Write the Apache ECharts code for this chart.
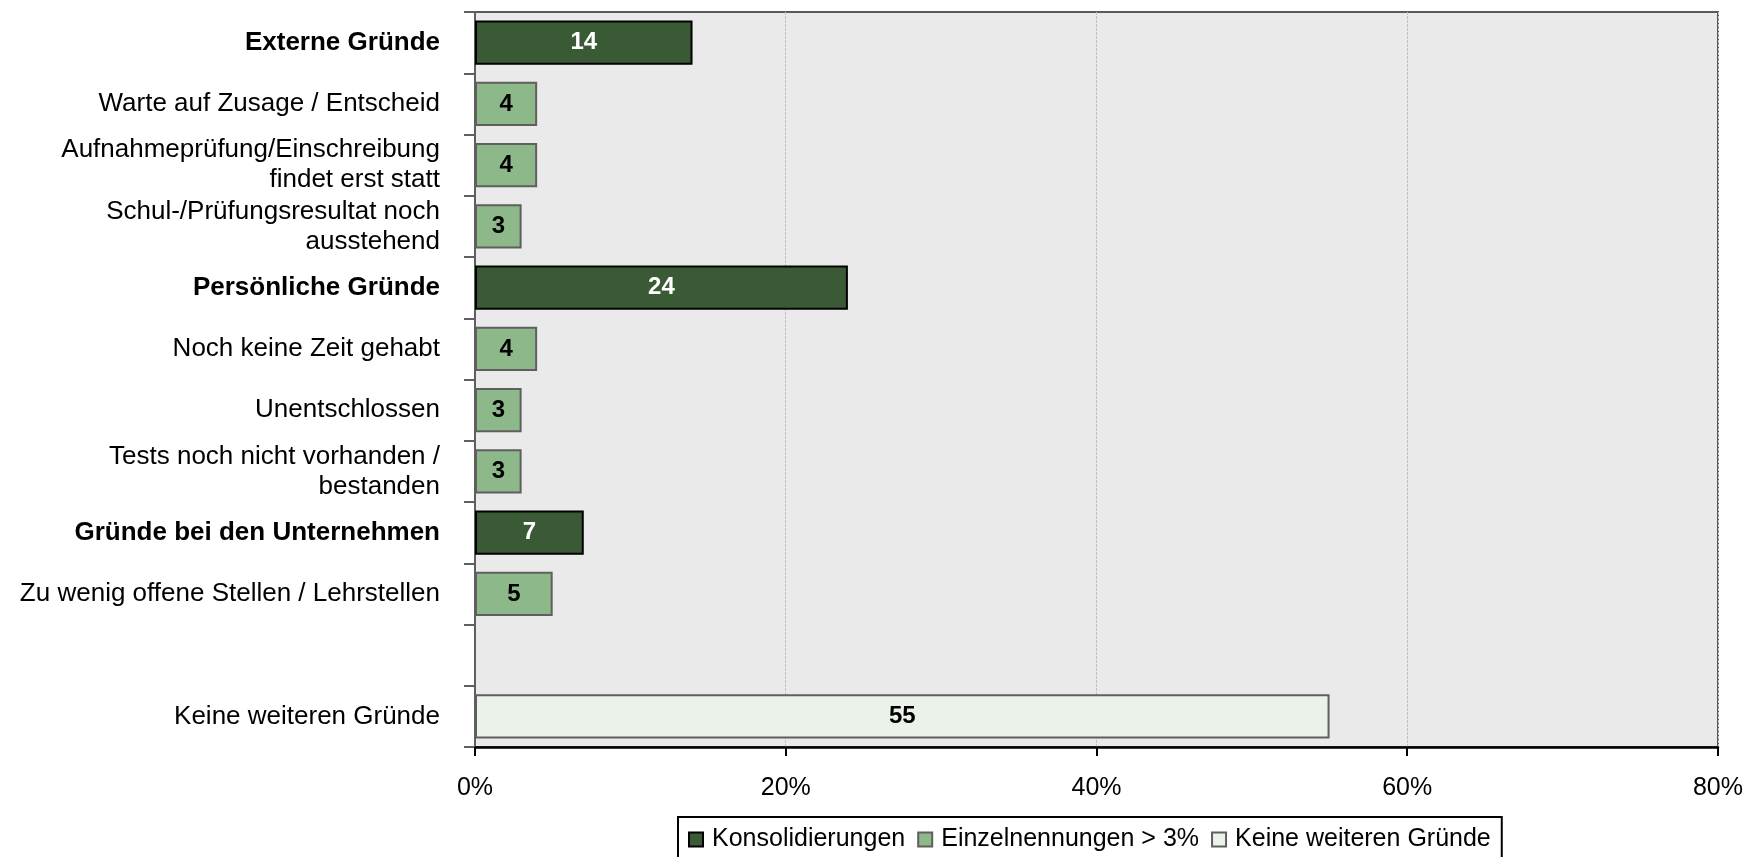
<!DOCTYPE html>
<html>
<head>
<meta charset="utf-8">
<style>
  html, body { margin: 0; padding: 0; background: #ffffff; }
  #chart-container { width: 1746px; height: 857px; }
</style>
<script src="https://cdn.jsdelivr.net/npm/echarts@6/dist/echarts.min.js"></script>
</head>
<body>
<div id="chart-container"></div>
<script>
// Kategorien von oben nach unten (leerer Platz vor "Keine weiteren Gründe")
var kategorien = [
  'Externe Gründe',
  'Warte auf Zusage / Entscheid',
  'Aufnahmeprüfung/Einschreibung\nfindet erst statt',
  'Schul-/Prüfungsresultat noch\nausstehend',
  'Persönliche Gründe',
  'Noch keine Zeit gehabt',
  'Unentschlossen',
  'Tests noch nicht vorhanden /\nbestanden',
  'Gründe bei den Unternehmen',
  'Zu wenig offene Stellen / Lehrstellen',
  '',
  'Keine weiteren Gründe'
];
var gruppenTitel = ['Externe Gründe', 'Persönliche Gründe', 'Gründe bei den Unternehmen'];

var konsolidierungen = [14, null, null, null, 24, null, null, null, 7, null, null, null];
var einzelnennungen = [null, 4, 4, 3, null, 4, 3, 3, null, 5, null, null];
var keineWeiteren = [null, null, null, null, null, null, null, null, null, null, null, 55];

var xTicks = [0, 20, 40, 60, 80];

var schrift = '"Liberation Sans", Arial, sans-serif';

var dom = document.getElementById('chart-container');
var myChart = echarts.init(dom, null, { renderer: 'canvas' });

function balkenLabel(farbe) {
  return {
    show: true,
    position: 'inside',
    color: farbe,
    fontFamily: schrift,
    fontWeight: 'bold',
    fontSize: 24
  };
}

var option = {
  animation: false,
  textStyle: { fontFamily: schrift },
  legend: {
    data: ['Konsolidierungen', 'Einzelnennungen > 3%', 'Keine weiteren Gründe'],
    left: 678,
    top: 817,
    orient: 'horizontal',
    itemWidth: 14,
    itemHeight: 14,
    itemGap: 12,
    icon: 'rect',
    padding: [10, 11, 10, 10],
    borderColor: '#000000',
    borderWidth: 2,
    backgroundColor: '#ffffff',
    borderRadius: 0,
    textStyle: {
      fontFamily: schrift,
      fontSize: 25,
      color: '#000000',
      padding: [0, 0, 0, 4]
    }
  },
  grid: {
    left: 475,
    right: 26,
    top: 12,
    bottom: 110,
    show: true,
    backgroundColor: '#eaeaea',
    borderColor: '#5a5a5a',
    borderWidth: 2
  },
  xAxis: {
    type: 'value',
    min: xTicks[0],
    max: xTicks[xTicks.length - 1],
    interval: xTicks[1] - xTicks[0],
    axisLine: { show: true, lineStyle: { color: '#000000', width: 2.5 } },
    axisTick: { show: true, length: 9, lineStyle: { color: '#000000', width: 2 } },
    axisLabel: {
      margin: 29,
      fontFamily: schrift,
      fontSize: 25,
      color: '#000000',
      formatter: '{value}%'
    },
    splitLine: { show: true, lineStyle: { color: '#c2c2c2', width: 1, type: [3, 1] } }
  },
  yAxis: {
    type: 'category',
    inverse: true,
    data: kategorien,
    axisLine: { show: true, lineStyle: { color: '#5f5f5f', width: 2 } },
    axisTick: { show: true, length: 11, lineStyle: { color: '#5f5f5f', width: 2 } },
    axisLabel: {
      margin: 35,
      fontFamily: schrift,
      fontSize: 26,
      lineHeight: 30,
      color: '#000000',
      formatter: function (value) {
        if (gruppenTitel.indexOf(value) >= 0) {
          return '{b|' + value + '}';
        }
        return value;
      },
      rich: {
        b: { fontWeight: 'bold', fontSize: 26, fontFamily: schrift, color: '#000000' }
      }
    },
    splitLine: { show: false }
  },
  series: [
    {
      name: 'Konsolidierungen',
      type: 'bar',
      stack: 'total',
      barCategoryGap: '28%',
      data: konsolidierungen,
      itemStyle: { color: '#395a35', borderColor: '#000000', borderWidth: 2 },
      label: balkenLabel('#ffffff')
    },
    {
      name: 'Einzelnennungen > 3%',
      type: 'bar',
      stack: 'total',
      barCategoryGap: '28%',
      data: einzelnennungen,
      itemStyle: { color: '#8db98a', borderColor: '#5f5f5f', borderWidth: 2 },
      label: balkenLabel('#000000')
    },
    {
      name: 'Keine weiteren Gründe',
      type: 'bar',
      stack: 'total',
      barCategoryGap: '28%',
      data: keineWeiteren,
      itemStyle: { color: '#ebf2ea', borderColor: '#5f5f5f', borderWidth: 2 },
      label: balkenLabel('#000000')
    }
  ]
};

if (option && typeof option === 'object') {
  myChart.setOption(option);
}

window.addEventListener('resize', myChart.resize);
</script>
</body>
</html>
